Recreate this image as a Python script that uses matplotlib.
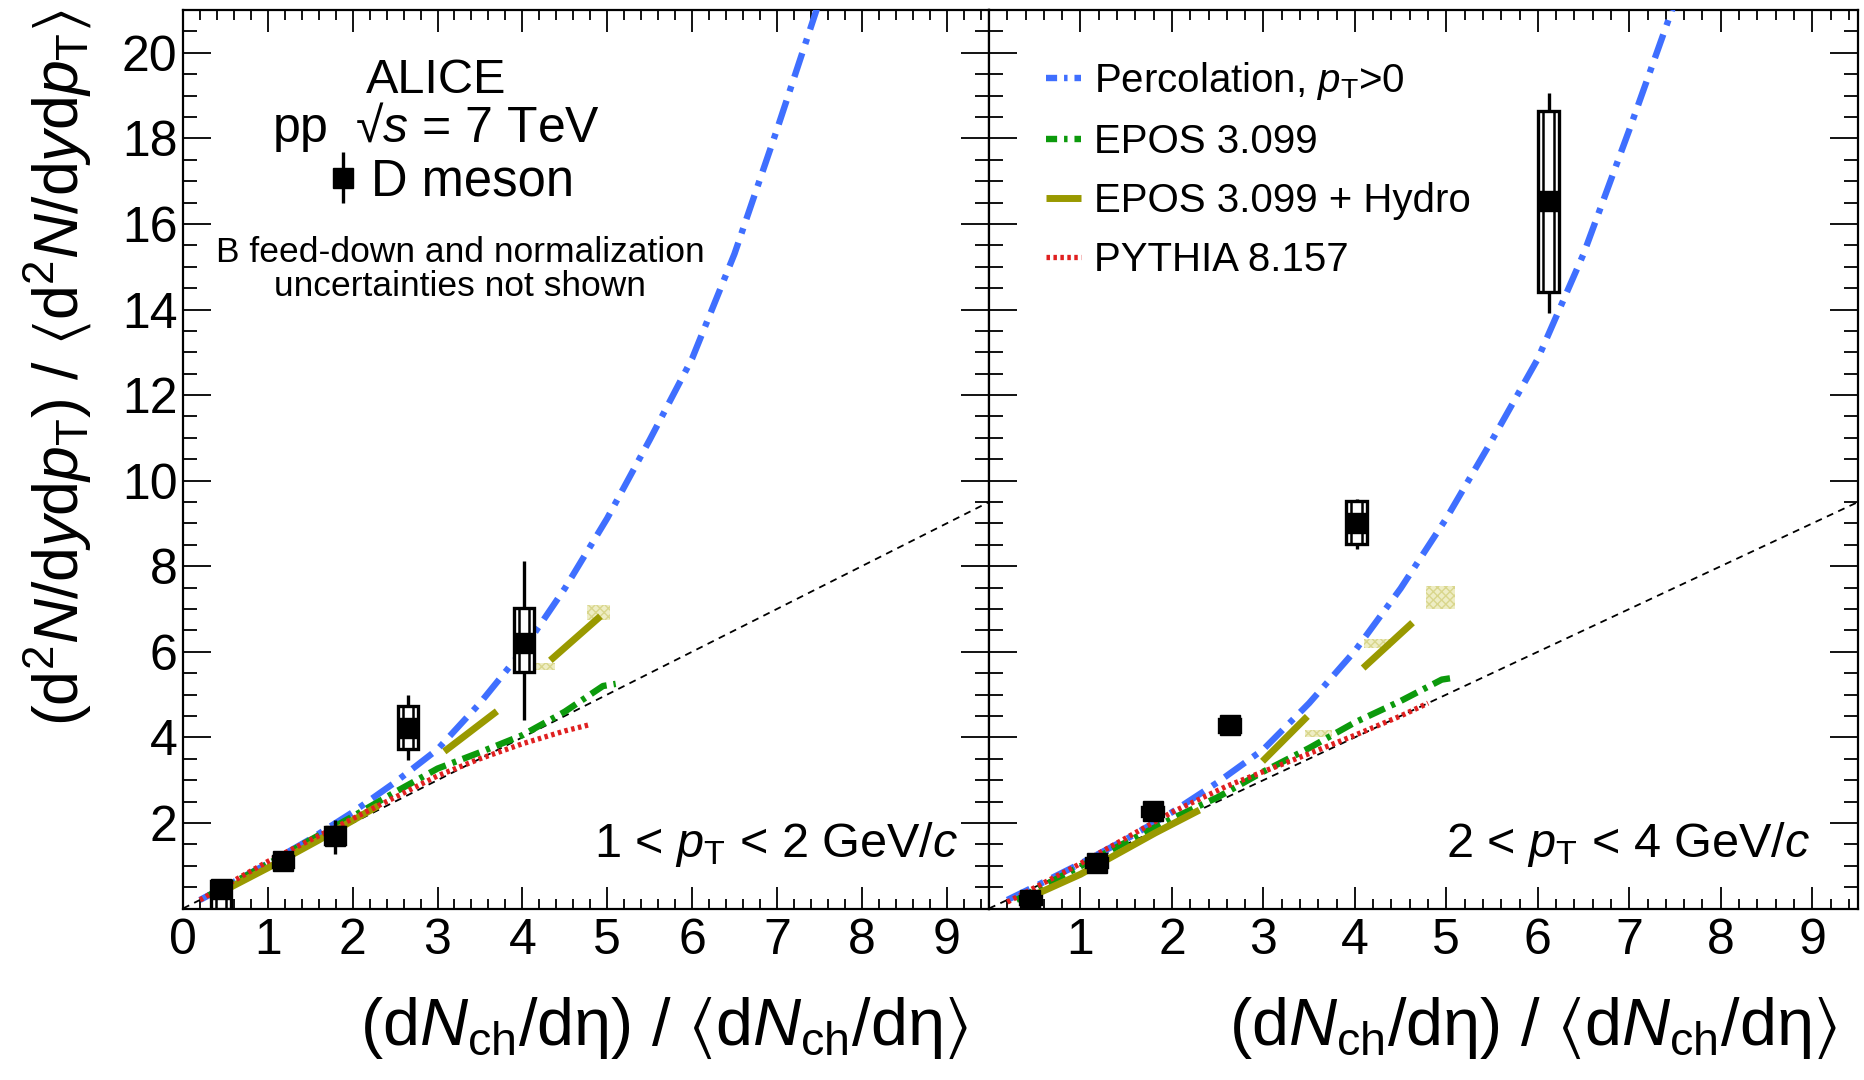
#!/usr/bin/env python3
"""D-meson yields vs charged-particle multiplicity in pp at 7 TeV (ALICE style, two pT bins)."""

import numpy as np
import matplotlib

matplotlib.use("Agg")
import matplotlib.pyplot as plt  # noqa: E402
from matplotlib.legend_handler import HandlerTuple  # noqa: E402
from matplotlib.lines import Line2D  # noqa: E402
from matplotlib.patches import Rectangle  # noqa: E402
from matplotlib.ticker import FixedLocator, MultipleLocator  # noqa: E402

plt.rcParams["font.family"] = ["Liberation Sans", "DejaVu Sans"]
plt.rcParams["mathtext.fontset"] = "custom"
plt.rcParams["mathtext.rm"] = "Liberation Sans"
plt.rcParams["mathtext.it"] = "Liberation Sans:italic"
plt.rcParams["mathtext.bf"] = "Liberation Sans:bold"
plt.rcParams["mathtext.sf"] = "Liberation Sans"
plt.rcParams["mathtext.fallback"] = "stixsans"
plt.rcParams["lines.scale_dashes"] = False

W, H = 1864, 1080

# --- data: 1 < pT < 2 GeV/c ---
d12_x = [0.45, 1.18, 1.79, 2.65, 4.02]
d12_y = [0.45, 1.10, 1.70, 4.22, 6.21]
d12_stat_lo = [0.15, 0.10, 0.43, 0.74, 1.80]
d12_stat_hi = [0.15, 0.10, 0.38, 0.78, 1.91]
d12_syst_lo = [0.45, 0.12, 0.20, 0.50, 0.69]
d12_syst_hi = [0.20, 0.12, 0.20, 0.52, 0.82]

# --- data: 2 < pT < 4 GeV/c ---
d24_x = [0.45, 1.18, 1.79, 2.63, 4.02, 6.12]
d24_y = [0.20, 1.07, 2.27, 4.28, 9.01, 16.53]
d24_stat_lo = [0.05, 0.05, 0.08, 0.10, 0.60, 2.61]
d24_stat_hi = [0.05, 0.05, 0.08, 0.10, 0.55, 2.54]
d24_syst_lo = [0.10, 0.10, 0.10, 0.15, 0.50, 2.13]
d24_syst_hi = [0.10, 0.10, 0.10, 0.15, 0.51, 2.12]

# --- models ---
perc_x = [0.2, 0.6, 1.0, 1.5, 2.0, 2.5, 3.0, 3.5, 4.0, 4.5, 5.0, 5.5, 6.0, 6.5, 7.0, 7.5, 7.7]
perc_y = [0.2, 0.62, 1.05, 1.62, 2.25, 2.95, 3.72, 4.8, 6.02, 7.48, 9.12, 10.95, 12.85, 15.3, 18.2, 21.2, 22.4]

unity_x = [0.0, 9.5]
unity_y = [0.0, 9.5]

epos12_x = [0.3, 0.7, 1.1, 1.5, 2.0, 2.5, 3.0, 3.5, 4.0, 4.5, 4.95, 5.1]
epos12_y = [0.3, 0.72, 1.15, 1.6, 2.15, 2.72, 3.27, 3.65, 4.05, 4.6, 5.2, 5.25]
pyth12_x = [0.2, 0.6, 1.0, 1.5, 2.0, 2.5, 3.0, 3.5, 4.0, 4.5, 4.8]
pyth12_y = [0.2, 0.65, 1.1, 1.6, 2.1, 2.6, 3.1, 3.5, 3.85, 4.15, 4.3]
hyd12_x = [0.35, 1.0, 1.6, 2.3, np.nan, 3.08, 3.70, np.nan, 4.33, 4.92]
hyd12_y = [0.28, 0.95, 1.6, 2.4, np.nan, 3.67, 4.61, np.nan, 5.80, 6.83]
hyd12_band_x0 = [4.13, 4.76]
hyd12_band_x1 = [4.39, 5.03]
hyd12_band_lo = [5.58, 6.75]
hyd12_band_hi = [5.74, 7.10]

epos24_x = [0.3, 0.7, 1.1, 1.5, 2.0, 2.5, 3.0, 3.5, 4.0, 4.5, 4.95, 5.1]
epos24_y = [0.2, 0.65, 1.1, 1.55, 2.1, 2.6, 3.2, 3.75, 4.35, 4.85, 5.35, 5.4]
pyth24_x = [0.2, 0.6, 1.0, 1.5, 2.0, 2.6, 3.0, 3.5, 4.0, 4.5, 4.8]
pyth24_y = [0.15, 0.6, 1.05, 1.65, 2.25, 2.86, 3.2, 3.62, 4.05, 4.5, 4.8]
hyd24_x = [0.47, 1.0, 1.82, 2.3, np.nan, 2.99, 3.48, np.nan, 4.09, 4.63]
hyd24_y = [0.29, 0.8, 1.77, 2.3, np.nan, 3.44, 4.49, np.nan, 5.62, 6.68]
hyd24_band_x0 = [3.45, 4.10, 4.78]
hyd24_band_x1 = [3.75, 4.40, 5.09]
hyd24_band_lo = [4.00, 6.10, 6.99]
hyd24_band_hi = [4.17, 6.30, 7.53]

BLUE = "#3f6fff"
GREEN = "#0c9a0c"
OLIVE = "#999900"
RED = "#e02020"


def fpos(x, y):
    """Pixel position in the 1864x1080 canvas -> figure fraction."""
    return x / W, 1 - y / H


def style_axes(ax, xlabels):
    ax.set_xlim(0, 9.5)
    ax.set_ylim(0, 21.0)
    ax.xaxis.set_major_locator(FixedLocator(range(0, 10)))
    ax.xaxis.set_minor_locator(MultipleLocator(0.2))
    ax.yaxis.set_major_locator(FixedLocator(range(2, 21, 2)))
    ax.yaxis.set_minor_locator(MultipleLocator(0.5))
    ax.tick_params(which="both", direction="in", top=True, right=True, width=1.3)
    ax.tick_params(axis="x", which="major", length=16, labelsize=36, pad=7)
    ax.tick_params(axis="x", which="minor", length=7.5)
    ax.tick_params(axis="y", which="major", length=20, labelsize=36, pad=4)
    ax.tick_params(axis="y", which="minor", length=10)
    ax.set_xticklabels(xlabels)
    for sp in ax.spines.values():
        sp.set_linewidth(1.6)


def draw_models(ax, epos_x, epos_y, pyth_x, pyth_y, hyd_x, hyd_y, bx0, bx1, blo, bhi):
    ax.plot(unity_x, unity_y, color="black", lw=1.3, dashes=(5, 4), zorder=2)
    for x0, x1, lo, hi in zip(bx0, bx1, blo, bhi):
        ax.fill_between([x0, x1], lo, hi, facecolor="#eeedc4", edgecolor="#d9d68c",
                        hatch="xxxx", linewidth=0, zorder=2)
    ax.plot(perc_x, perc_y, color=BLUE, lw=4.6, dashes=(18, 7, 4, 7), zorder=3)
    ax.plot(epos_x, epos_y, color=GREEN, lw=4.6, dashes=(13, 5, 3, 5), zorder=4)
    ax.plot(hyd_x, hyd_y, color=OLIVE, lw=5.0, solid_capstyle="butt", zorder=4)
    ax.plot(pyth_x, pyth_y, color=RED, lw=3.8, dashes=(2.5, 2.5), zorder=5)


def draw_data(ax, x, y, slo, shi, ylo, yhi):
    bars = ax.errorbar(x, y, yerr=[slo, shi], fmt="none", ecolor="black",
                       elinewidth=2.4, capsize=0, zorder=6)
    for xi, yi, lo, hi in zip(x, y, ylo, yhi):
        ax.add_patch(Rectangle((xi - 0.115, yi - lo), 0.23, lo + hi, facecolor="white",
                               edgecolor="black", lw=2.4, zorder=7))
        ax.add_patch(Rectangle((xi - 0.06, yi - lo), 0.12, lo + hi, fill=False,
                               edgecolor="black", lw=1.8, zorder=7))
    marks, = ax.plot(x, y, "s", color="black", ms=14.5, zorder=8)
    return (bars, marks)


fig = plt.figure(figsize=(W / 100, H / 100), dpi=100)
ax1 = fig.add_axes([183 / W, 1 - 908.5 / H, 806 / W, 898.5 / H])
ax2 = fig.add_axes([989 / W, 1 - 908.5 / H, 869 / W, 898.5 / H])

draw_models(ax1, epos12_x, epos12_y, pyth12_x, pyth12_y, hyd12_x, hyd12_y,
            hyd12_band_x0, hyd12_band_x1, hyd12_band_lo, hyd12_band_hi)
dmeson = draw_data(ax1, d12_x, d12_y, d12_stat_lo, d12_stat_hi, d12_syst_lo, d12_syst_hi)
draw_models(ax2, epos24_x, epos24_y, pyth24_x, pyth24_y, hyd24_x, hyd24_y,
            hyd24_band_x0, hyd24_band_x1, hyd24_band_lo, hyd24_band_hi)
draw_data(ax2, d24_x, d24_y, d24_stat_lo, d24_stat_hi, d24_syst_lo, d24_syst_hi)

style_axes(ax1, [str(i) for i in range(0, 10)])
style_axes(ax2, [""] + [str(i) for i in range(1, 10)])
ax2.set_yticklabels([])

# model legend (right panel); short-pattern keys like the ROOT legend
keys = [
    Line2D([], [], color=BLUE, lw=4.6, dashes=(8, 5, 2.5, 5)),
    Line2D([], [], color=GREEN, lw=4.6, dashes=(8, 5, 2.5, 5)),
    Line2D([], [], color=OLIVE, lw=5.0, solid_capstyle="butt"),
    Line2D([], [], color=RED, lw=3.8, dashes=(2.5, 2.5)),
]
names = [r"Percolation, $p_{\mathrm{T}}$>0", "EPOS 3.099", "EPOS 3.099 + Hydro",
         "PYTHIA 8.157"]
ax2.legend(handles=keys, labels=names, loc="upper left", bbox_to_anchor=fpos(1046, 60),
           bbox_transform=fig.transFigure, frameon=False, fontsize=29,
           handlelength=0.88, handletextpad=0.3, labelspacing=0.52,
           borderpad=0, borderaxespad=0)

# D meson key (left panel)
ax1.legend(handles=[dmeson], labels=["D meson"], loc="center left",
           handler_map={tuple: HandlerTuple(ndivide=1)},
           bbox_to_anchor=fpos(328, 182), bbox_transform=fig.transFigure,
           frameon=False, fontsize=36.5, handlelength=0.6, handletextpad=0.25,
           borderpad=0, borderaxespad=0)

fig.text(*fpos(436, 93), "ALICE", fontsize=35, ha="center", va="baseline")
fig.text(*fpos(436, 142), r"pp  √$s$ = 7 TeV", fontsize=36, ha="center", va="baseline")
fig.text(*fpos(460, 262), "B feed-down and normalization", fontsize=25.5,
         ha="center", va="baseline")
fig.text(*fpos(460, 296), "uncertainties not shown", fontsize=25.5,
         ha="center", va="baseline")

fig.text(*fpos(958, 857), r"1 < $p_{\mathrm{T}}$ < 2 GeV/$c$", fontsize=35,
         ha="right", va="baseline")
fig.text(*fpos(1810, 857), r"2 < $p_{\mathrm{T}}$ < 4 GeV/$c$", fontsize=35,
         ha="right", va="baseline")

xlab = (r"$(\mathrm{d}N_{\mathrm{ch}}/\mathrm{d}\mathrm{\eta})\ /\ "
        r"\langle\mathrm{d}N_{\mathrm{ch}}/\mathrm{d}\mathrm{\eta}\rangle$")
fig.text(*fpos(968, 1045), xlab, fontsize=48, ha="right", va="baseline")
fig.text(*fpos(1837, 1045), xlab, fontsize=48, ha="right", va="baseline")

ylab = (r"$(\mathrm{d}^{2}N/\mathrm{d}y\mathrm{d}p_{\mathrm{T}})\ /\ "
        r"\langle\mathrm{d}^{2}N/\mathrm{d}y\mathrm{d}p_{\mathrm{T}}\rangle$")
fig.text(*fpos(77, 10), ylab, fontsize=45, rotation=90, rotation_mode="anchor",
         ha="right", va="baseline")

fig.savefig("out.png", dpi=100, facecolor="white")
